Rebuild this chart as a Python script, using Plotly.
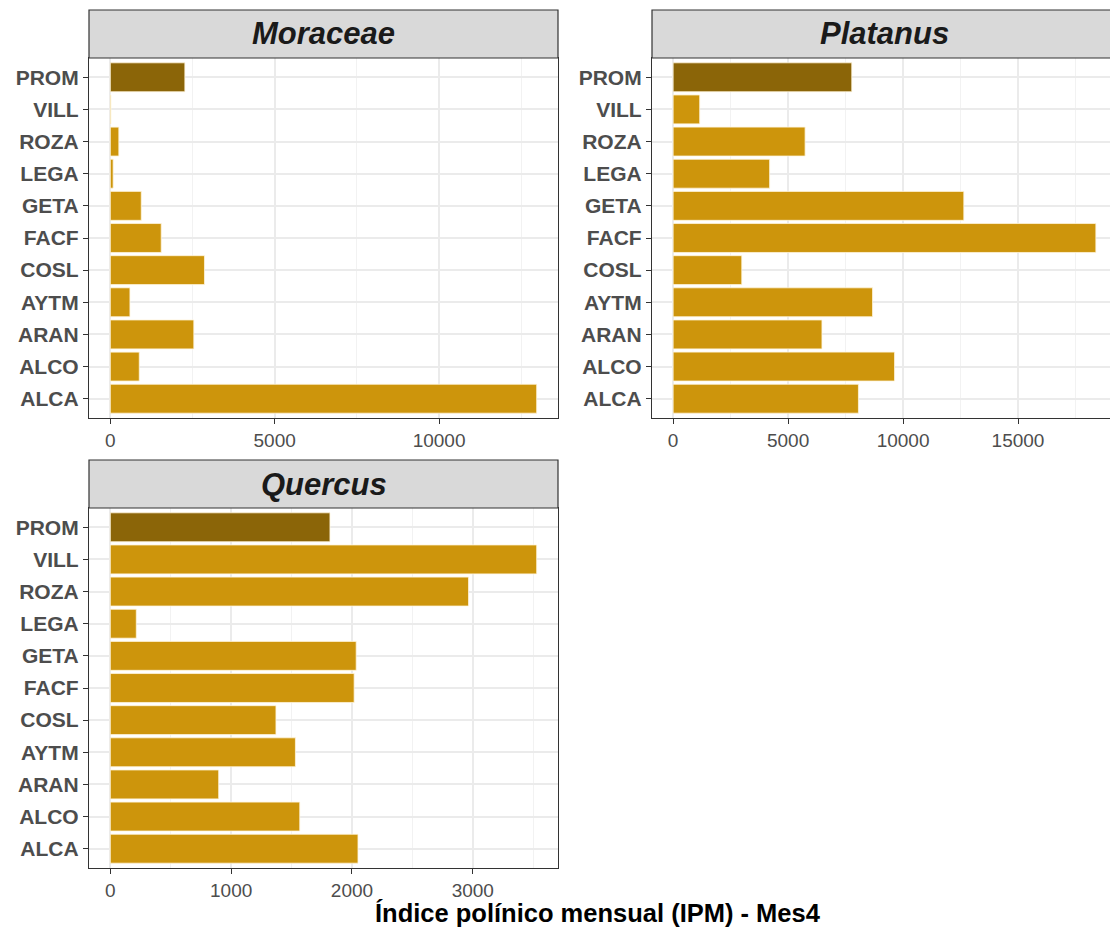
import plotly.graph_objects as go

# la pagina deja 8px de margen en el body: el lienzo se reduce y se desplaza
OFF = 8
W, H = 1118 - OFF, 931 - OFF

# estaciones (de abajo a arriba, como en el eje y)
estaciones = ["ALCA", "ALCO", "ARAN", "AYTM", "COSL", "FACF", "GETA", "LEGA", "ROZA", "VILL", "PROM"]

moraceae = [12970, 880, 2540, 597, 2864, 1548, 941, 86, 259, 20, 2268]
platanus = [8059, 9630, 6473, 8673, 2986, 18386, 12643, 4197, 5739, 1156, 7770]
quercus = [2050, 1568, 897, 1532, 1371, 2018, 2035, 215, 2965, 3529, 1818]

taxones = ["Moraceae", "Platanus", "Quercus"]
x_ticks = [[0, 5000, 10000], [0, 5000, 10000, 15000], [0, 1000, 2000, 3000]]
x_minor = [2500, 2500, 500]

titulo_x = "Índice polínico mensual (IPM) - Mes4"

COL_BAR = "#CD950C"
COL_PROM = "#8B6508"
FONT = "Arial, Liberation Sans, sans-serif"


def px_x(p):
    return (p - OFF) / W


def px_y(p):
    return 1 - (p - OFF) / H


# paneles: (x0, x1, strip_top, plot_top, plot_bottom) en pixeles de la imagen
paneles = [
    (89, 558, 10, 58, 418),
    (652, 1117, 10, 58, 418),
    (89, 558, 460, 508, 868),
]

fig = go.Figure()
series = [moraceae, platanus, quercus]

for i, (vals, tax) in enumerate(zip(series, taxones)):
    n = "" if i == 0 else str(i + 1)
    colores = [COL_PROM if e == "PROM" else COL_BAR for e in estaciones]
    fig.add_trace(go.Bar(
        x=vals, y=estaciones, orientation="h",
        width=0.9,
        marker=dict(color=colores, line=dict(color="#FFF5DC", width=0.8)),
        xaxis="x" + n, yaxis="y" + n,
        name=tax, showlegend=False,
    ))

    x0, x1, st, pt, pb = paneles[i]
    vmax = max(vals)
    fig.update_layout(**{
        "xaxis" + n: dict(
            domain=[px_x(x0), min(px_x(x1), 1)],
            anchor="y" + n,
            range=[-0.05 * vmax, 1.05 * vmax],
            tickvals=x_ticks[i],
            ticktext=[str(t) for t in x_ticks[i]],
            tickfont=dict(family=FONT, size=19, color="#4D4D4D"),
            ticks="outside", ticklen=5, tickwidth=1.2, tickcolor="#333333",
            showgrid=True, gridcolor="#EBEBEB", gridwidth=1.5,
            minor=dict(dtick=x_minor[i], tick0=0, showgrid=True,
                       gridcolor="#F2F2F2", gridwidth=0.8, ticks=""),
            showline=True, mirror=True, linecolor="#333333", linewidth=1.2,
            zeroline=False,
        ),
        "yaxis" + n: dict(
            domain=[px_y(pb), px_y(pt)],
            anchor="x" + n,
            type="category",
            categoryorder="array", categoryarray=estaciones,
            range=[-0.6, len(estaciones) - 0.4],
            tickfont=dict(family=FONT, size=21, color="#4D4D4D", weight="bold"),
            ticks="outside", ticklen=5, tickwidth=1.2, tickcolor="#333333",
            showgrid=True, gridcolor="#EBEBEB", gridwidth=1.5,
            showline=True, mirror=True, linecolor="#333333", linewidth=1.2,
            zeroline=False,
        ),
    })

    # franja del facet
    fig.add_shape(type="rect", xref="paper", yref="paper",
                  x0=px_x(x0), x1=min(px_x(x1), 1), y0=px_y(pt), y1=px_y(st),
                  fillcolor="#D9D9D9", line=dict(color="#333333", width=1.2),
                  layer="above")
    fig.add_annotation(text="<b><i>" + tax + "</i></b>", xref="paper", yref="paper",
                       x=px_x((x0 + x1) / 2), y=px_y((st + pt) / 2),
                       showarrow=False, xanchor="center", yanchor="middle",
                       font=dict(family=FONT, size=31, color="#1A1A1A"))

fig.add_annotation(text="<b>" + titulo_x + "</b>", xref="paper", yref="paper",
                   x=px_x(598), y=px_y(913), showarrow=False,
                   xanchor="center", yanchor="middle",
                   font=dict(family=FONT, size=25.5, color="#000000"))

fig.update_layout(
    width=W, height=H, autosize=False,
    margin=dict(l=0, r=0, t=0, b=0),
    paper_bgcolor="white", plot_bgcolor="white",
    bargap=0.1,
    font=dict(family=FONT),
)

fig.write_html("out.html")
